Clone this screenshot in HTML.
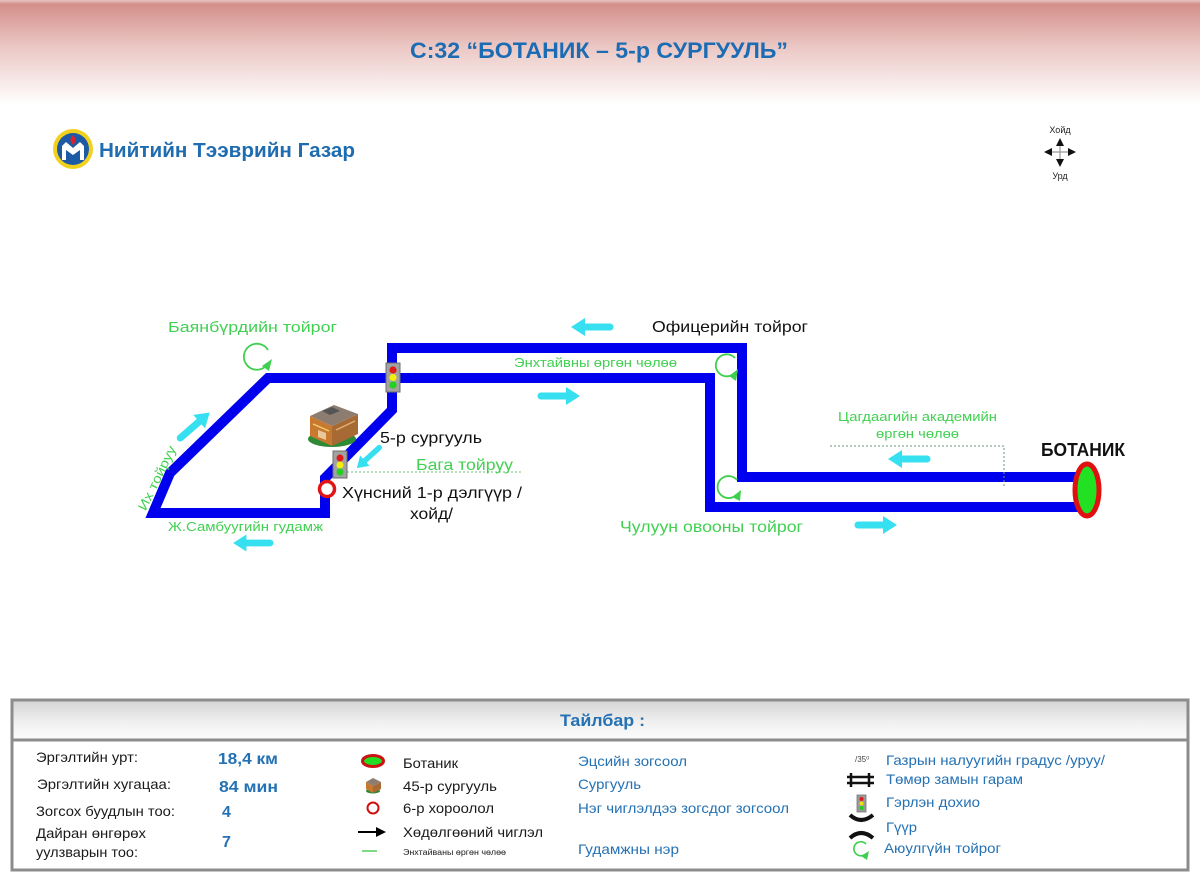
<!DOCTYPE html>
<html><head><meta charset="utf-8"><style>
html,body{margin:0;padding:0;background:#fff;}
svg{display:block;}
text{font-family:"Liberation Sans",Arial,sans-serif;}
</style></head><body>
<svg width="1200" height="873" viewBox="0 0 1200 873" xmlns="http://www.w3.org/2000/svg">
<defs>
<linearGradient id="hdr" x1="0" y1="0" x2="0" y2="1">
<stop offset="0" stop-color="#e6c6c3"/>
<stop offset="0.04" stop-color="#d48f8a"/>
<stop offset="0.45" stop-color="#ebc8c5"/>
<stop offset="1" stop-color="#ffffff"/>
</linearGradient>
<linearGradient id="lg" x1="0" y1="0" x2="0" y2="1">
<stop offset="0" stop-color="#d6d6d6"/>
<stop offset="0.6" stop-color="#f2f2f2"/>
<stop offset="1" stop-color="#fbfbfb"/>
</linearGradient>
<g id="arr">
<line x1="3" y1="0" x2="30" y2="0" stroke="#36e0f0" stroke-width="7" stroke-linecap="round"/>
<polygon points="42,0 28,-9 28,9" fill="#36e0f0"/>
</g>
</defs>
<rect x="0" y="0" width="1200" height="873" fill="#fff"/>
<rect x="0" y="0" width="1200" height="105" fill="url(#hdr)"/>

<!-- Title -->
<text x="410" y="58" font-size="22" font-weight="bold" fill="#1c6cb4" textLength="378" lengthAdjust="spacingAndGlyphs">С:32 “БОТАНИК – 5-р СУРГУУЛЬ”</text>

<!-- Logo -->
<circle cx="73" cy="149" r="20" fill="#f2d11e"/>
<circle cx="73" cy="149" r="16" fill="#1d5aa6"/>
<path d="M62,146 L66,142 L73,148 L80,142 L84,146 L84,160 L80,160 L80,150 L73,155 L66,150 L66,160 L62,160 Z" fill="#fff"/>
<path d="M73,135 Q68,140 73,145 Q78,140 73,135 Z" fill="#d8232a"/>
<text x="99" y="157" font-size="20" font-weight="bold" fill="#1f6cb0" textLength="256" lengthAdjust="spacingAndGlyphs">Нийтийн Тээврийн Газар</text>

<!-- Compass -->
<text x="1060" y="133" font-size="9" fill="#222" text-anchor="middle">Хойд</text>
<text x="1060" y="179" font-size="9" fill="#222" text-anchor="middle">Урд</text>
<line x1="1060" y1="142" x2="1060" y2="163" stroke="#999" stroke-width="1.2"/>
<line x1="1048" y1="152" x2="1072" y2="152" stroke="#999" stroke-width="1.2"/>
<polygon points="1060,138 1056,146 1064,146" fill="#111"/>
<polygon points="1060,167 1056,159 1064,159" fill="#111"/>
<polygon points="1044,152 1052,148 1052,156" fill="#111"/>
<polygon points="1076,152 1068,148 1068,156" fill="#111"/>

<!-- Route -->
<path d="M1080,477 L742,477 L742,348 L392,348 L392,410 L325,478 L325,513 L153,513 L170,473 L268,378 L710,378 L710,507 L1080,507" fill="none" stroke="#0000ee" stroke-width="10" stroke-linejoin="miter" stroke-miterlimit="3"/>

<!-- dotted guide lines -->
<line x1="347" y1="472" x2="522" y2="472" stroke="#6cbf7a" stroke-width="1" stroke-dasharray="2,2"/>
<polyline points="830,446 1004,446 1004,486" fill="none" stroke="#6a9a7a" stroke-width="1" stroke-dasharray="2,2"/>

<!-- Botanic terminal -->
<ellipse cx="1087" cy="490" rx="12" ry="26" fill="#22e022" stroke="#e01010" stroke-width="5"/>

<!-- roundabouts -->
<g fill="none" stroke="#3fcf4f" stroke-width="1.8">
<path d="M268,350 A13,13 0 1,0 266,366"/>
<path d="M735,358 A11,11 0 1,0 732,375"/>
<path d="M737,480 A11,11 0 1,0 735,496"/>
</g>
<polygon points="272,359 262,366 269,371" fill="#3fcf4f"/>
<polygon points="738,369 729,376 736,381" fill="#3fcf4f"/>
<polygon points="741,490 732,497 740,501" fill="#3fcf4f"/>

<!-- traffic lights -->
<rect x="386" y="363" width="14" height="29" fill="#a2a2a2" stroke="#6e6e6e" stroke-width="1"/>
<circle cx="393" cy="370" r="3.6" fill="#e01a1a"/>
<circle cx="393" cy="377.5" r="3.6" fill="#f2ee10"/>
<circle cx="393" cy="385" r="3.6" fill="#22d022"/>
<rect x="333" y="451" width="14" height="27" fill="#a2a2a2" stroke="#6e6e6e" stroke-width="1"/>
<circle cx="340" cy="458" r="3.5" fill="#e01a1a"/>
<circle cx="340" cy="465" r="3.5" fill="#f2ee10"/>
<circle cx="340" cy="472" r="3.5" fill="#22d022"/>

<!-- stop circle -->
<circle cx="327" cy="489" r="7.5" fill="#fff" stroke="#e01515" stroke-width="3.5"/>

<!-- building -->
<g>
<ellipse cx="332" cy="439" rx="24" ry="8" fill="#2f8a36"/>
<polygon points="310,416 332,426 332,446 310,436" fill="#c7792f"/>
<polygon points="332,426 358,414 358,434 332,446" fill="#a86a35"/>
<polygon points="310,416 334,405 358,414 332,426" fill="#8c7d70"/>
<polygon points="322,411 332,407 340,411 330,415" fill="#555"/>
<polygon points="318,430 326,433 326,440 318,437" fill="#e8c89a"/>
<line x1="313" y1="424" x2="329" y2="431" stroke="#f0d070" stroke-width="1.5"/>
<line x1="336" y1="430" x2="355" y2="421" stroke="#e2b070" stroke-width="1.5"/>
</g>

<!-- cyan arrows -->
<use href="#arr" transform="translate(613,327) rotate(180)"/>
<use href="#arr" transform="translate(538,396)"/>
<use href="#arr" transform="translate(930,459) rotate(180)"/>
<use href="#arr" transform="translate(855,525)"/>
<use href="#arr" transform="translate(273,543) rotate(180) scale(0.95)"/>
<use href="#arr" transform="translate(178,440) rotate(-41)"/>
<use href="#arr" transform="translate(381,446) rotate(137.6) scale(0.78)"/>

<!-- map labels -->
<g font-size="15" fill="#42d052">
<text x="168" y="332" textLength="169" lengthAdjust="spacingAndGlyphs">Баянбүрдийн тойрог</text>
<text x="514" y="367" font-size="13" textLength="163" lengthAdjust="spacingAndGlyphs">Энхтайвны өргөн чөлөө</text>
<text x="416" y="470" font-size="16" textLength="97" lengthAdjust="spacingAndGlyphs">Бага тойруу</text>
<text x="838" y="421" font-size="13" textLength="159" lengthAdjust="spacingAndGlyphs">Цагдаагийн академийн</text>
<text x="876" y="438" font-size="13" textLength="83" lengthAdjust="spacingAndGlyphs">өргөн чөлөө</text>
<text x="620" y="532" font-size="16" textLength="183" lengthAdjust="spacingAndGlyphs">Чулуун овооны тойрог</text>
<text x="168" y="531" font-size="13" textLength="155" lengthAdjust="spacingAndGlyphs">Ж.Самбуугийн гудамж</text>
<text x="161" y="480" font-size="13" text-anchor="middle" transform="rotate(-64 161 480)" textLength="70" lengthAdjust="spacingAndGlyphs">Их тойруу</text>
</g>
<g font-size="16" fill="#111">
<text x="652" y="332" textLength="156" lengthAdjust="spacingAndGlyphs">Офицерийн тойрог</text>
<text x="380" y="443" textLength="102" lengthAdjust="spacingAndGlyphs">5-р сургууль</text>
<text x="342" y="498" textLength="180" lengthAdjust="spacingAndGlyphs">Хүнсний 1-р дэлгүүр /</text>
<text x="410" y="519" textLength="43" lengthAdjust="spacingAndGlyphs">хойд/</text>
<text x="1041" y="456" font-size="18" font-weight="bold" textLength="84" lengthAdjust="spacingAndGlyphs">БОТАНИК</text>
</g>

<!-- Legend -->
<rect x="12" y="700" width="1176" height="170" fill="#fff" stroke="#8c8c8c" stroke-width="3"/>
<rect x="13.5" y="701.5" width="1173" height="38" fill="url(#lg)"/>
<line x1="12" y1="740" x2="1188" y2="740" stroke="#8c8c8c" stroke-width="3"/>
<text x="560" y="726" font-size="17" font-weight="bold" fill="#2471b3" textLength="85" lengthAdjust="spacingAndGlyphs">Тайлбар :</text>

<g font-size="14" fill="#1a1a1a">
<text x="36" y="762" textLength="102" lengthAdjust="spacingAndGlyphs">Эргэлтийн урт:</text>
<text x="37" y="789" textLength="134" lengthAdjust="spacingAndGlyphs">Эргэлтийн хугацаа:</text>
<text x="36" y="816" textLength="139" lengthAdjust="spacingAndGlyphs">Зогсох буудлын тоо:</text>
<text x="36" y="838" textLength="110" lengthAdjust="spacingAndGlyphs">Дайран өнгөрөх</text>
<text x="36" y="857" textLength="102" lengthAdjust="spacingAndGlyphs">уулзварын тоо:</text>
</g>
<g font-size="16" font-weight="bold" fill="#2471b3">
<text x="218" y="764" textLength="60" lengthAdjust="spacingAndGlyphs">18,4 км</text>
<text x="219" y="792" textLength="59" lengthAdjust="spacingAndGlyphs">84 мин</text>
<text x="222" y="817">4</text>
<text x="222" y="847">7</text>
</g>

<!-- col3 icons -->
<ellipse cx="373" cy="761" rx="10.5" ry="5.5" fill="#22dd22" stroke="#cc1212" stroke-width="3"/>
<g>
<ellipse cx="373" cy="791" rx="7" ry="2.5" fill="#2f8a36"/>
<polygon points="366,782 373,786 373,793 366,789" fill="#c7792f"/>
<polygon points="373,786 381,782 381,789 373,793" fill="#a86a35"/>
<polygon points="366,782 373,778 381,782 373,786" fill="#8c7d70"/>
</g>
<circle cx="373" cy="808" r="5.5" fill="none" stroke="#d01010" stroke-width="2"/>
<line x1="358" y1="832" x2="378" y2="832" stroke="#000" stroke-width="2"/>
<polygon points="386,832 376,827 376,837" fill="#000"/>
<line x1="362" y1="851" x2="377" y2="851" stroke="#55cc55" stroke-width="1.5"/>

<g font-size="14" fill="#1a1a1a">
<text x="403" y="768" textLength="55" lengthAdjust="spacingAndGlyphs">Ботаник</text>
<text x="403" y="791" textLength="94" lengthAdjust="spacingAndGlyphs">45-р сургууль</text>
<text x="403" y="813" textLength="91" lengthAdjust="spacingAndGlyphs">6-р хороолол</text>
<text x="403" y="837" textLength="140" lengthAdjust="spacingAndGlyphs">Хөдөлгөөний чиглэл</text>
<text x="403" y="855" font-size="8" textLength="103" lengthAdjust="spacingAndGlyphs">Энхтайваны өргөн чөлөө</text>
</g>

<g font-size="14" fill="#2471b3">
<text x="578" y="766" textLength="109" lengthAdjust="spacingAndGlyphs">Эцсийн зогсоол</text>
<text x="578" y="789" textLength="63" lengthAdjust="spacingAndGlyphs">Сургууль</text>
<text x="578" y="813" textLength="211" lengthAdjust="spacingAndGlyphs">Нэг чиглэлдээ зогсдог зогсоол</text>
<text x="578" y="854" textLength="101" lengthAdjust="spacingAndGlyphs">Гудамжны нэр</text>
</g>

<!-- col5 icons -->
<text x="855" y="762" font-size="8" fill="#444">/35⁰</text>
<g stroke="#111" stroke-width="2.5">
<line x1="851" y1="773" x2="851" y2="787"/>
<line x1="869" y1="773" x2="869" y2="787"/>
<line x1="847" y1="777" x2="874" y2="777"/>
<line x1="847" y1="783" x2="874" y2="783"/>
</g>
<rect x="857" y="795" width="9" height="17" fill="#9a9a9a" stroke="#777" stroke-width="0.8"/>
<circle cx="861.5" cy="799" r="2" fill="#e01a1a"/>
<circle cx="861.5" cy="803.5" r="2" fill="#f0e010"/>
<circle cx="861.5" cy="808" r="2" fill="#22d022"/>
<path d="M850,815 Q861,825 873,815" fill="none" stroke="#111" stroke-width="4"/>
<path d="M850,838 Q861,828 873,838" fill="none" stroke="#111" stroke-width="4"/>
<path d="M866,844 A7,7 0 1,0 864,855" fill="none" stroke="#3fcf4f" stroke-width="1.6"/>
<polygon points="869,851 861,856 867,860" fill="#3fcf4f"/>

<g font-size="14" fill="#2471b3">
<text x="886" y="765" textLength="219" lengthAdjust="spacingAndGlyphs">Газрын налуугийн градус /уруу/</text>
<text x="886" y="784" textLength="137" lengthAdjust="spacingAndGlyphs">Төмөр замын гарам</text>
<text x="886" y="807" textLength="94" lengthAdjust="spacingAndGlyphs">Гэрлэн дохио</text>
<text x="886" y="832" textLength="31" lengthAdjust="spacingAndGlyphs">Гүүр</text>
<text x="884" y="853" textLength="117" lengthAdjust="spacingAndGlyphs">Аюулгүйн тойрог</text>
</g>
</svg>
</body></html>
